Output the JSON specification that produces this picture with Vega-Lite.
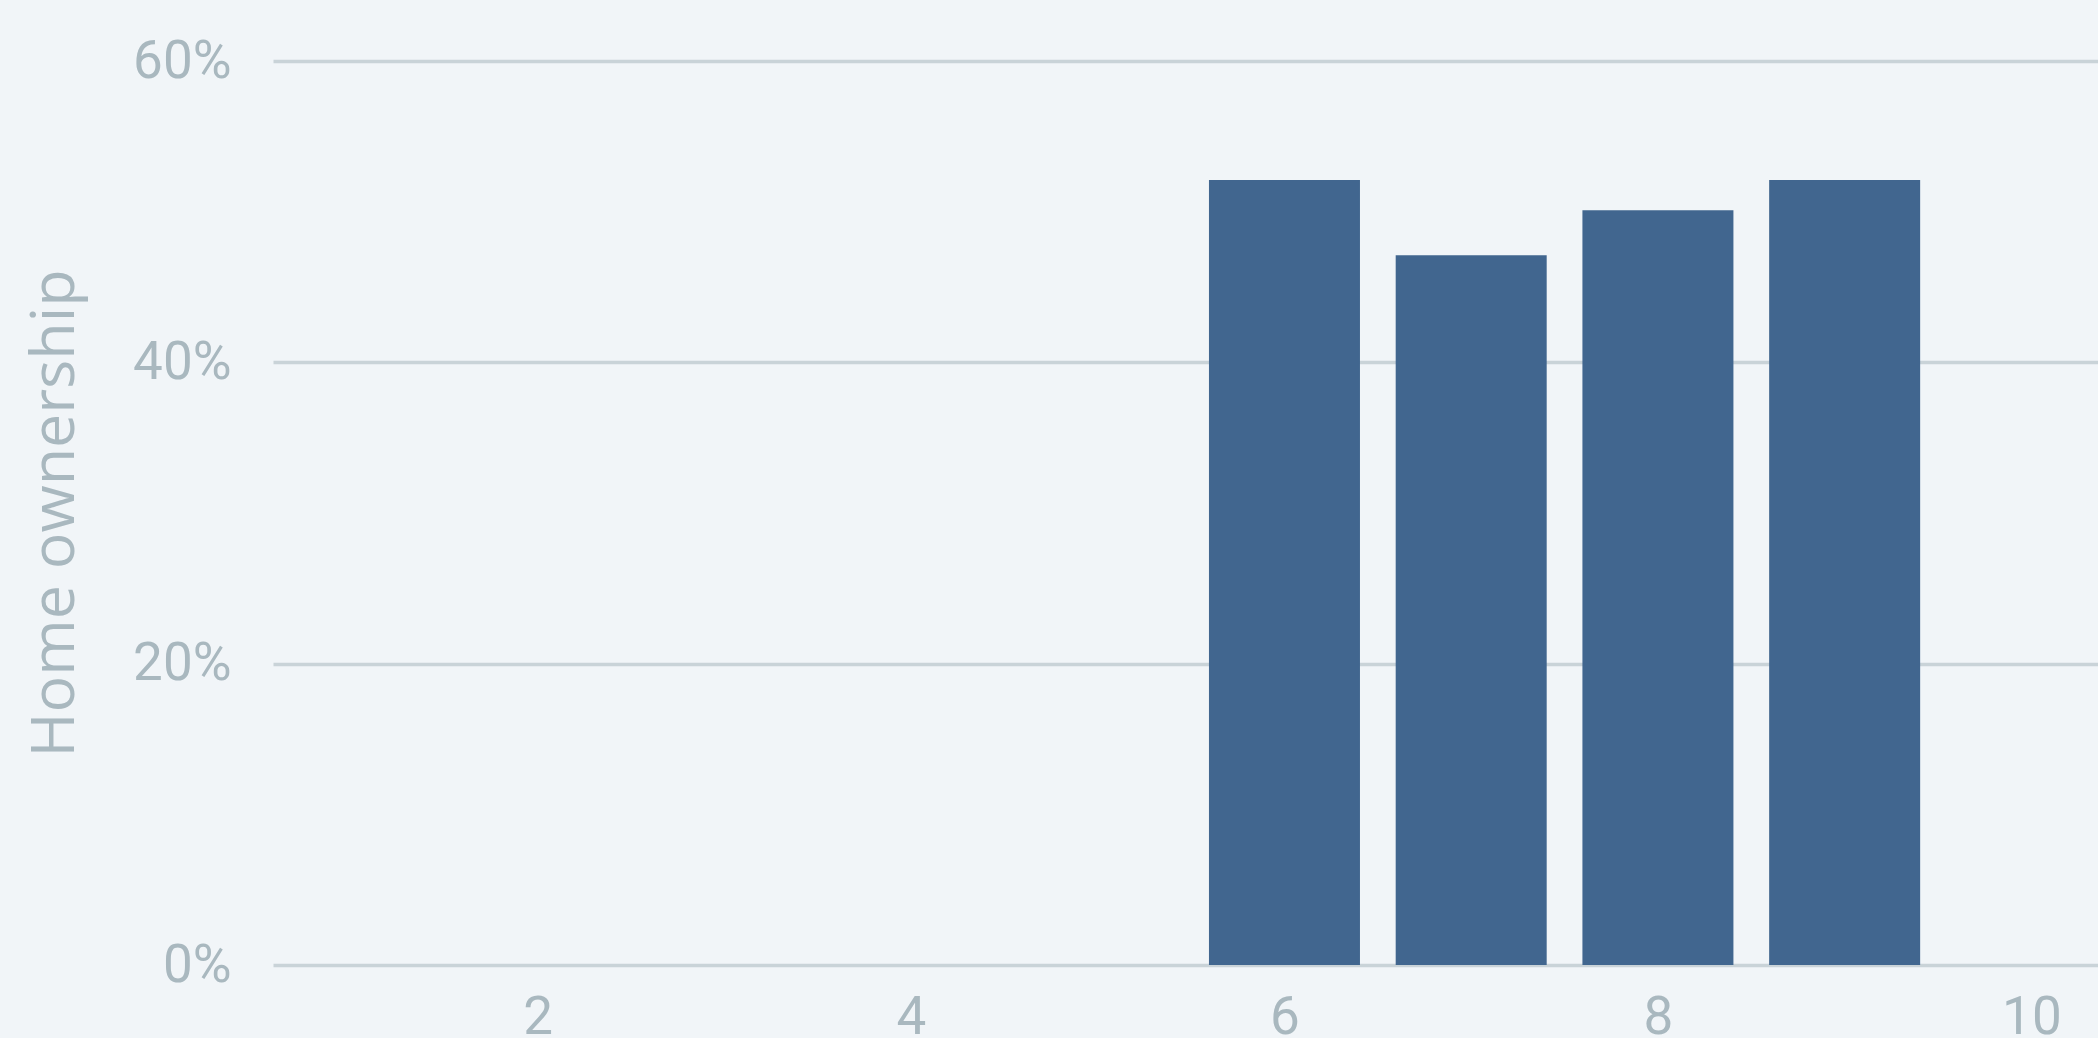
{
  "$schema": "https://vega.github.io/schema/vega-lite/v6.json",
  "width": 1825,
  "height": 904,
  "autosize": "none",
  "padding": {"left": 273, "top": 61, "right": 0, "bottom": 73},
  "background": "#f1f5f8",
  "config": {"view": {"stroke": null}, "font": "Open Sans"},
  "data": {
    "values": [
      {"decile": 6, "ownership": 0.521},
      {"decile": 7, "ownership": 0.471},
      {"decile": 8, "ownership": 0.501},
      {"decile": 9, "ownership": 0.521}
    ]
  },
  "mark": {"type": "bar", "width": 151, "color": "#41668f"},
  "encoding": {
    "x": {
      "field": "decile",
      "type": "quantitative",
      "scale": {"domain": [0.61, 10.33], "nice": false, "zero": false},
      "axis": {
        "values": [2, 4, 6, 8, 10],
        "grid": false,
        "domain": false,
        "ticks": false,
        "labelFont": "Roboto",
        "labelFontSize": 53,
        "labelColor": "#a9b8bf",
        "labelPadding": 26,
        "labelFlush": false,
        "title": null
      }
    },
    "y": {
      "field": "ownership",
      "type": "quantitative",
      "scale": {"domain": [0, 0.6], "nice": false},
      "axis": {
        "format": ".0%",
        "values": [0, 0.2, 0.4, 0.6],
        "domain": false,
        "ticks": false,
        "gridColor": "#c9d3d8",
        "gridWidth": 3.5,
        "gridOpacity": 1,
        "labelFont": "Roboto",
        "labelFontSize": 53,
        "labelColor": "#a9b8bf",
        "labelPadding": 42,
        "title": "Home ownership",
        "titleFontSize": 61,
        "titleFontWeight": "normal",
        "titleColor": "#a9b8bf",
        "titlePadding": 46
      }
    }
  }
}
